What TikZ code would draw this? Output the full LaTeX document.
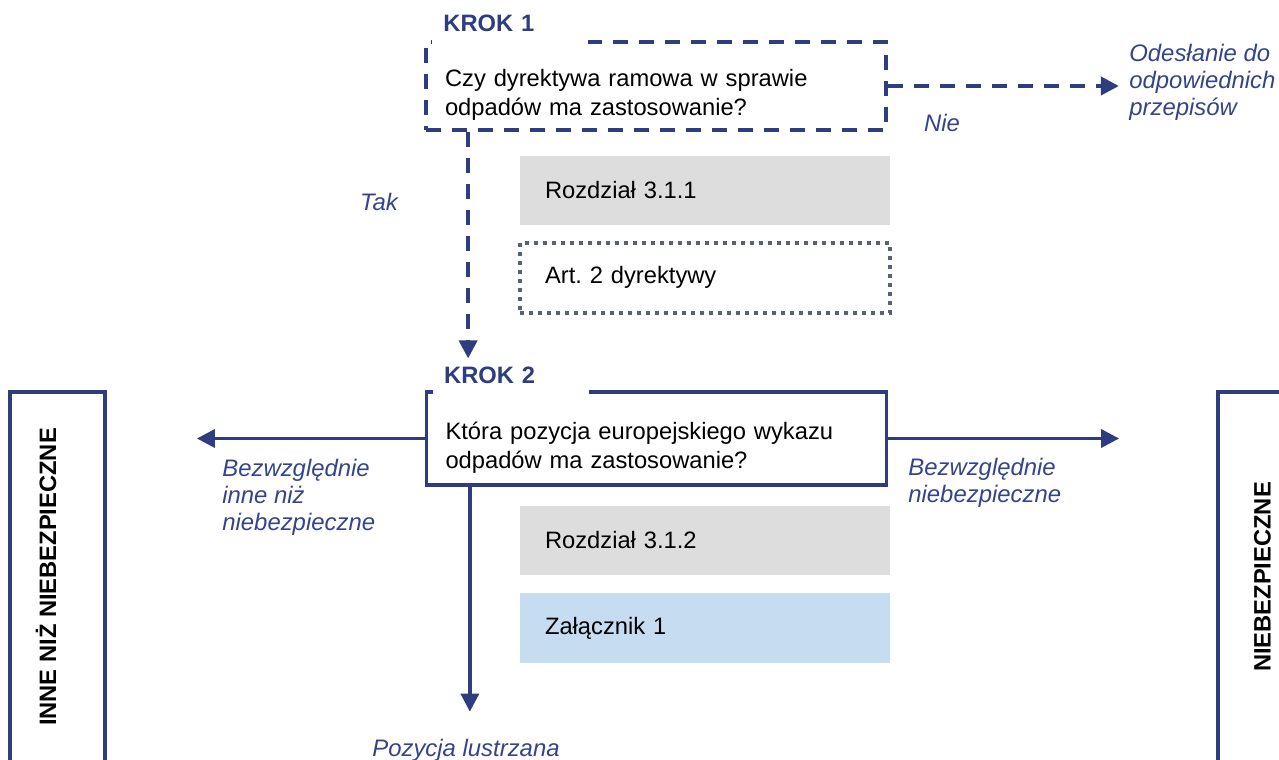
\documentclass[tikz,border=0pt]{standalone}
\usepackage{fontspec}
\setmainfont{Liberation Sans}
\usetikzlibrary{arrows.meta,positioning,calc}
\definecolor{krokblue}{RGB}{46,61,128}
\definecolor{opisblue}{RGB}{52,68,140}
\definecolor{rozdzgray}{RGB}{221,221,221}
\definecolor{zalblue}{RGB}{198,220,240}
\definecolor{dotgray}{RGB}{88,98,118}

\begin{document}
\frenchspacing
\begin{tikzpicture}[x=0.02cm, y=-0.02cm,
    krokbox/.style={draw=krokblue, line width=1.9pt, text width=8.44cm, align=left, inner xsep=0.38cm, inner ysep=0.2cm, font=\fontsize{13.5}{16}\selectfont},
    kroklbl/.style={fill=white, anchor=base west, text=krokblue, font=\fontsize{13.5}{16}\selectfont\bfseries, text width=2.68cm, inner xsep=0.22cm, inner ysep=0pt, text depth=0.25cm},
    refbox/.style={minimum width=7.4cm, minimum height=1.4cm, text width=6.4cm, align=left, inner xsep=0.5cm, font=\fontsize{13.5}{16}\selectfont},
    sidebox/.style={draw=krokblue, line width=1.9pt, rotate=90, minimum width=7.4cm, minimum height=1.9cm, text height=0.34cm, font=\fontsize{13.5}{16}\selectfont\bfseries},
    opis/.style={text=opisblue, font=\fontsize{13.6}{15.4}\selectfont\itshape, align=left, inner sep=0pt},
    strzalka/.style={draw=krokblue, line width=1.9pt, -{Triangle[length=0.36cm, width=0.36cm]}},
    przerywana/.style={strzalka, line width=2.2pt, dash pattern=on 0.3cm off 0.22cm}]
  \useasboundingbox (0,0) rectangle (1279,760);
  % krok 1
  \node[krokbox, line width=2.2pt, dash pattern=on 0.3cm off 0.22cm, text height=0.7cm, text depth=0.66cm] (krok1) at (656,86) {Czy dyrektywa ramowa w sprawie\\odpadów ma zastosowanie?};
  \node[kroklbl] (krok1lbl) at ($(krok1.north west)+(8,-9)$) {KROK 1};
  \node[refbox, fill=rozdzgray] (rozdz1) at (705,190.5) {Rozdział 3.1.1};
  \node[refbox, draw=dotgray, line width=2.2pt, dash pattern=on 0.08cm off 0.1cm, below=0.3cm of rozdz1] (art2) {Art. 2 dyrektywy};
  % krok 2
  \node[krokbox, text height=0.76cm, text depth=0.7cm] (krok2) at (656.5,438.5) {Która pozycja europejskiego wykazu\\odpadów ma zastosowanie?};
  \node[kroklbl] (krok2lbl) at ($(krok2.north west)+(8,-7)$) {KROK 2};
  \node[refbox, fill=rozdzgray] (rozdz2) at (705,540.5) {Rozdział 3.1.2};
  \node[refbox, fill=zalblue, below=0.34cm of rozdz2] (zal1) {Załącznik 1};
  % wyniki
  \node[sidebox, text depth=0.4cm] (inne) at (57.5,577) {INNE NIŻ NIEBEZPIECZNE};
  \node[sidebox, text depth=0.14cm] (niebezp) at (1265.5,577) {NIEBEZPIECZNE};
  % strzalki
  \coordinate (tak0) at ($(krok1.south west)+(44,0)$);
  \draw[przerywana, shorten >=0.16cm] (tak0) -- (tak0 |- krok2lbl.north);
  \node[opis] (tak) at (379,202) {Tak};
  \draw[przerywana] (krok1.east) -- ++(231,0) coordinate (odeslanie);
  \node[opis] (nie) at (942,123) {Nie};
  \node[opis, anchor=west] (odesl) at (1129,82) {Odesłanie do\\odpowiednich\\przepisów};
  \draw[strzalka] (krok2.west) -- ++(-228,0) coordinate (lewo);
  \node[opis, anchor=west] (bezwzgl1) at (222,497) {Bezwzględnie\\inne niż\\niebezpieczne};
  \draw[strzalka] (krok2.east) -- ++(231,0) coordinate (prawo);
  \node[opis, anchor=west] (bezwzgl2) at (908,483) {Bezwzględnie\\niebezpieczne};
  \coordinate (dol0) at ($(krok2.south west)+(45,0)$);
  \draw[strzalka] (dol0) -- ++(0,225) coordinate (dol);
  \node[opis] (lustrzana) at (466,750) {Pozycja lustrzana};
\end{tikzpicture}
\end{document}
